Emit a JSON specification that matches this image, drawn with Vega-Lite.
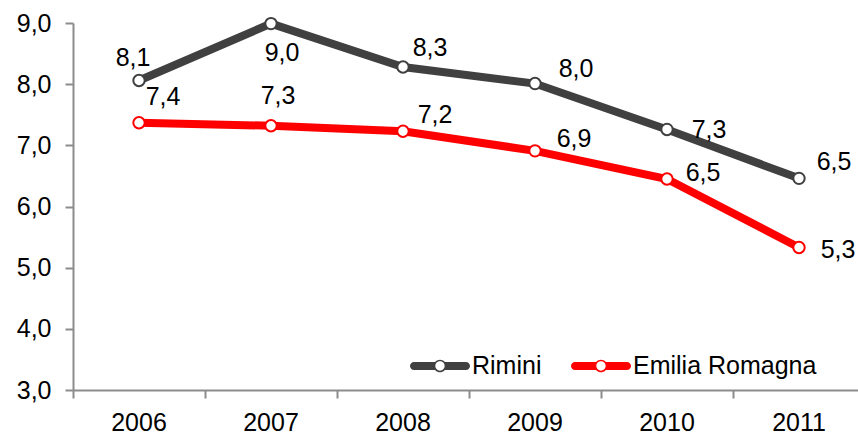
{
  "$schema": "https://vega.github.io/schema/vega-lite/v6.json",
  "width": 785,
  "height": 367,
  "autosize": "none",
  "padding": {"left": 73, "top": 23, "right": 0, "bottom": 47},
  "config": {
    "font": "Liberation Sans",
    "view": {"stroke": null},
    "axis": {"grid": false, "labelFont": "Liberation Sans", "labelFontSize": 25, "labelColor": "#000000", "domainColor": "#8C8C8C", "tickColor": "#8C8C8C", "domainWidth": 2, "tickWidth": 2, "tickSize": 8, "title": null},
    "text": {"fontSize": 25, "font": "Liberation Sans", "color": "#000000", "align": "center", "baseline": "middle"}
  },
  "data": {
    "values": [
      {"year": "2006", "series": "Rimini", "value": 8.06},
      {"year": "2007", "series": "Rimini", "value": 8.99},
      {"year": "2008", "series": "Rimini", "value": 8.28},
      {"year": "2009", "series": "Rimini", "value": 8.01},
      {"year": "2010", "series": "Rimini", "value": 7.26},
      {"year": "2011", "series": "Rimini", "value": 6.46},
      {"year": "2006", "series": "Emilia Romagna", "value": 7.37},
      {"year": "2007", "series": "Emilia Romagna", "value": 7.32},
      {"year": "2008", "series": "Emilia Romagna", "value": 7.23},
      {"year": "2009", "series": "Emilia Romagna", "value": 6.91},
      {"year": "2010", "series": "Emilia Romagna", "value": 6.45},
      {"year": "2011", "series": "Emilia Romagna", "value": 5.33}
    ]
  },
  "transform": [
    {"calculate": "replace(format(datum.value, '.1f'), '.', ',')", "as": "label"}
  ],
  "encoding": {
    "x": {
      "field": "year", "type": "ordinal", "sort": null,
      "scale": {"type": "band", "range": [0, 792], "paddingInner": 0, "paddingOuter": 0},
      "axis": {"bandPosition": 0, "labelAngle": 0, "labelPadding": 12, "ticks": true}
    },
    "y": {
      "field": "value", "type": "quantitative",
      "scale": {"domain": [3, 9], "nice": false, "zero": false},
      "axis": {"values": [3, 4, 5, 6, 7, 8, 9], "labelPadding": 14, "labelExpr": "replace(format(datum.value, '.1f'), '.', ',')"}
    }
  },
  "layer": [
    {
      "mark": {"type": "line", "strokeWidth": 8},
      "encoding": {
        "stroke": {
          "field": "series", "type": "nominal",
          "scale": {"domain": ["Rimini", "Emilia Romagna"], "range": ["#404040", "#FF0000"]},
          "legend": {
            "title": null, "orient": "none", "direction": "horizontal",
            "legendX": 337, "legendY": 313, "padding": 0,
            "symbolType": "M-0.8667,-0.1333 L-0.16,-0.1333 L-0.16,0.1333 L-0.8667,0.1333 A0.1333,0.1333 0 0,1 -0.8667,-0.1333 Z M0.16,-0.1333 L0.8667,-0.1333 A0.1333,0.1333 0 0,1 0.8667,0.1333 L0.16,0.1333 Z M0.21,0 A0.21,0.21 0 1,1 -0.21,0 A0.21,0.21 0 1,1 0.21,0 Z M0.155,0 A0.155,0.155 0 1,0 -0.155,0 A0.155,0.155 0 1,0 0.155,0 Z",
            "symbolSize": 3600, "symbolStrokeWidth": 0,
            "labelFontSize": 25, "labelFont": "Liberation Sans", "labelColor": "#000000",
            "labelOffset": 2, "columnPadding": 28, "labelLimit": 400,
            "encode": {"symbols": {"update": {"fill": {"scale": "stroke", "field": "value"}, "strokeWidth": {"value": 0}, "opacity": {"value": 1}}}}
          }
        }
      }
    },
    {
      "mark": {"type": "point", "shape": "circle", "filled": true, "fill": "#FFFFFF", "size": 130, "strokeWidth": 2, "opacity": 1},
      "encoding": {
        "stroke": {"field": "series", "type": "nominal", "legend": null}
      }
    },
    {"transform": [{"filter": "datum.series == 'Rimini' && datum.year == '2006'"}], "mark": {"type": "text", "dx": -6, "dy": -22}, "encoding": {"text": {"field": "label"}}},
    {"transform": [{"filter": "datum.series == 'Rimini' && datum.year == '2007'"}], "mark": {"type": "text", "dx": 11, "dy": 29}, "encoding": {"text": {"field": "label"}}},
    {"transform": [{"filter": "datum.series == 'Rimini' && datum.year == '2008'"}], "mark": {"type": "text", "dx": 27, "dy": -19}, "encoding": {"text": {"field": "label"}}},
    {"transform": [{"filter": "datum.series == 'Rimini' && datum.year == '2009'"}], "mark": {"type": "text", "dx": 41, "dy": -15}, "encoding": {"text": {"field": "label"}}},
    {"transform": [{"filter": "datum.series == 'Rimini' && datum.year == '2010'"}], "mark": {"type": "text", "dx": 42, "dy": 1}, "encoding": {"text": {"field": "label"}}},
    {"transform": [{"filter": "datum.series == 'Rimini' && datum.year == '2011'"}], "mark": {"type": "text", "dx": 35, "dy": -16}, "encoding": {"text": {"field": "label"}}},
    {"transform": [{"filter": "datum.series == 'Emilia Romagna' && datum.year == '2006'"}], "mark": {"type": "text", "dx": 24, "dy": -26}, "encoding": {"text": {"field": "label"}}},
    {"transform": [{"filter": "datum.series == 'Emilia Romagna' && datum.year == '2007'"}], "mark": {"type": "text", "dx": 7, "dy": -30}, "encoding": {"text": {"field": "label"}}},
    {"transform": [{"filter": "datum.series == 'Emilia Romagna' && datum.year == '2008'"}], "mark": {"type": "text", "dx": 32, "dy": -16}, "encoding": {"text": {"field": "label"}}},
    {"transform": [{"filter": "datum.series == 'Emilia Romagna' && datum.year == '2009'"}], "mark": {"type": "text", "dx": 39, "dy": -12}, "encoding": {"text": {"field": "label"}}},
    {"transform": [{"filter": "datum.series == 'Emilia Romagna' && datum.year == '2010'"}], "mark": {"type": "text", "dx": 36, "dy": -6}, "encoding": {"text": {"field": "label"}}},
    {"transform": [{"filter": "datum.series == 'Emilia Romagna' && datum.year == '2011'"}], "mark": {"type": "text", "dx": 39, "dy": 3}, "encoding": {"text": {"field": "label"}}}
  ]
}
